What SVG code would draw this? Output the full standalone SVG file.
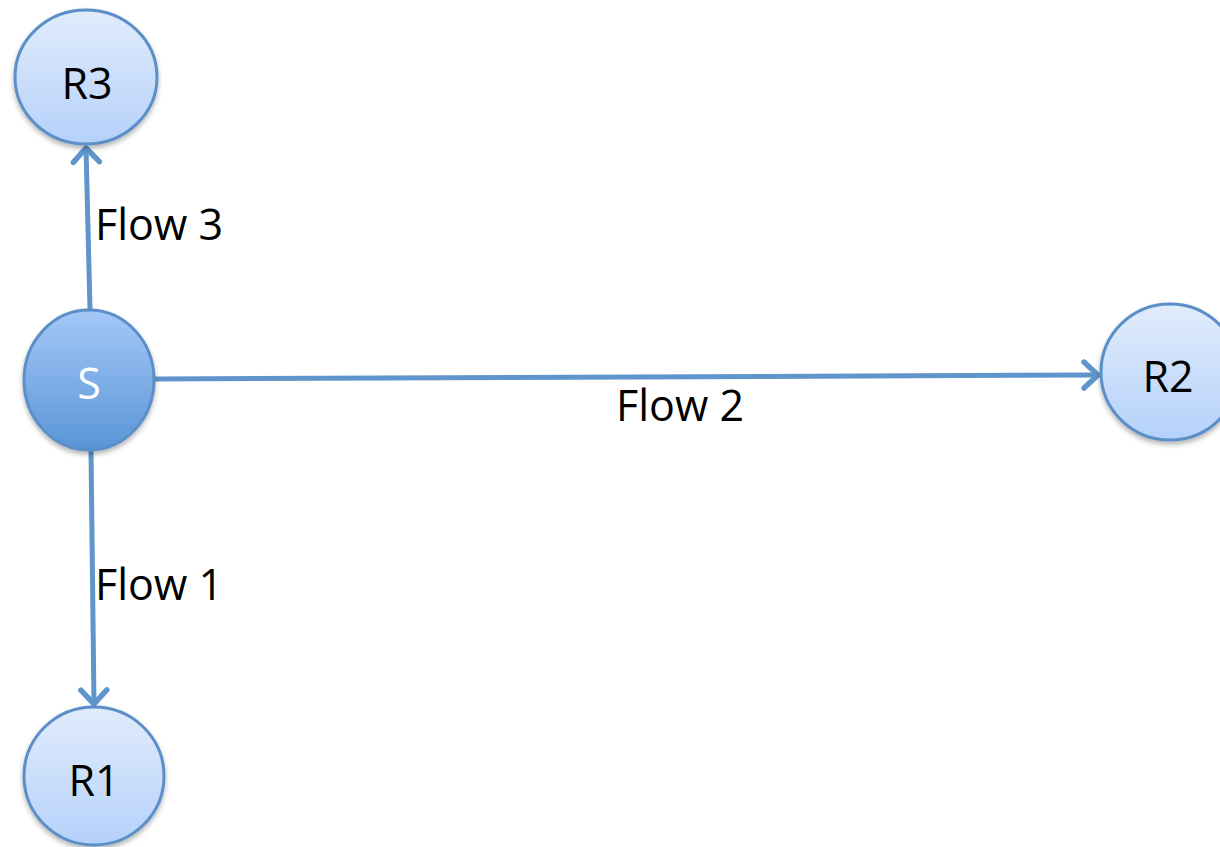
<svg xmlns="http://www.w3.org/2000/svg" width="1220" height="847" viewBox="0 0 1220 847">
<style>
.node{stroke:#5b8fc7;stroke-width:3}
.rcv{fill:url(#gR)}
.src{fill:url(#gS)}
.lbl{font-family:"Open Sans","Liberation Sans",sans-serif;font-size:43px;fill:#000}
.conn{stroke:#5f95cb;stroke-width:5;fill:none;marker-end:url(#ah)}
</style>
<defs>
<linearGradient id="gR" x1="0" y1="0" x2="0" y2="1">
<stop offset="0" stop-color="#e1ecfc"/>
<stop offset="1" stop-color="#b5d1fa"/>
</linearGradient>
<linearGradient id="gS" x1="0" y1="0" x2="0" y2="1">
<stop offset="0" stop-color="#a6c8f8"/>
<stop offset="1" stop-color="#5895d6"/>
</linearGradient>
<filter id="sh" x="-20%" y="-20%" width="140%" height="150%">
<feDropShadow dx="0" dy="3" stdDeviation="2.5" flood-color="#000" flood-opacity="0.3"/>
</filter>
<marker id="ah" markerUnits="userSpaceOnUse" markerWidth="34" markerHeight="34" refX="22" refY="17" orient="auto" viewBox="0 0 34 34">
<path d="M8,4 L22,17 L8,30" fill="none" stroke="#5f95cb" stroke-width="5.5" stroke-linecap="round" stroke-linejoin="round"/>
</marker>
</defs>
<g id="connectors">
<path class="conn" d="M90,309 L86,148"/>
<path class="conn" d="M155,379 L1098,375"/>
<path class="conn" d="M91,451 L94,704"/>
</g>
<g id="R3">
<ellipse class="node rcv" cx="86" cy="77" rx="71" ry="67" filter="url(#sh)"/>
<text class="lbl" x="87" y="99" text-anchor="middle">R3</text>
</g>
<g id="S">
<ellipse class="node src" cx="89" cy="380" rx="65" ry="70" filter="url(#sh)"/>
<text class="lbl" x="89" y="399" text-anchor="middle" style="fill:#fff">S</text>
</g>
<g id="R2">
<ellipse class="node rcv" cx="1170" cy="372" rx="69" ry="68" filter="url(#sh)"/>
<text class="lbl" x="1168" y="392" text-anchor="middle">R2</text>
</g>
<g id="R1">
<ellipse class="node rcv" cx="94" cy="776" rx="70" ry="69" filter="url(#sh)"/>
<text class="lbl" x="94" y="796" text-anchor="middle">R1</text>
</g>
<g id="labels">
<text class="lbl" x="95" y="240">Flow 3</text>
<text class="lbl" x="616" y="421">Flow 2</text>
<text class="lbl" x="95" y="600">Flow 1</text>
</g>
</svg>
